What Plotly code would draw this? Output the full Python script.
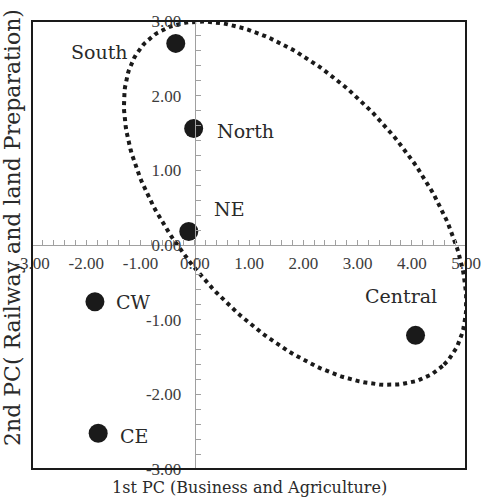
import numpy as np
import plotly.graph_objects as go

# Principal component scores by region
regions = ["South", "North", "NE", "CW", "CE", "Central"]
pc1 = [-0.35, -0.02, -0.11, -1.84, -1.78, 4.07]
pc2 = [2.70, 1.56, 0.18, -0.76, -2.52, -1.21]

# label offsets (pixels) relative to each point
label_dx = [-76, 52, 41, 39, 36, -15]
label_dy = [-9, -2, 23, 0, -3, 39]

# tick values and labels for both axes
x_ticks = [-3, -2, -1, 0, 1, 2, 3, 4, 5]
x_tick_labels = ["-3.00", "-2.00", "-1.00", "0.00", "1.00", "2.00", "3.00", "4.00", "5.00"]
y_ticks = [-3, -2, -1, 0, 1, 2, 3]
y_tick_labels = ["-3.00", "-2.00", "-1.00", "0.00", "1.00", "2.00", "3.00"]

# dotted grouping ellipse: centre plus two conjugate semi-axis vectors
ell_center = (1.85, 0.56)
ell_u = (2.72, -2.18)
ell_v = (-1.60, -1.08)

t = np.linspace(0, 2 * np.pi, 241)
ex = ell_center[0] + ell_u[0] * np.cos(t) + ell_v[0] * np.sin(t)
ey = ell_center[1] + ell_u[1] * np.cos(t) + ell_v[1] * np.sin(t)

INK = "#1a1a1a"
TEXT = "#2a2a2a"
TICK = "#3c3c3c"
AXIS = "#a0a0a0"
SERIF = "DejaVu Serif"
TICKFONT = "Liberation Serif"

fig = go.Figure()
fig.add_trace(go.Scatter(
    x=ex, y=ey, mode="lines",
    line=dict(color=INK, width=4, dash="dot"),
    hoverinfo="skip", showlegend=False,
))
fig.add_trace(go.Scatter(
    x=pc1, y=pc2, mode="markers",
    marker=dict(size=19, color=INK),
    text=regions, showlegend=False,
))

for name, x, y, dx, dy in zip(regions, pc1, pc2, label_dx, label_dy):
    fig.add_annotation(
        x=x, y=y, xref="x", yref="y", text=name, showarrow=False,
        xshift=dx, yshift=dy, xanchor="center", yanchor="middle",
        font=dict(family=SERIF, size=19, color=TEXT),
    )

# axis titles
fig.add_annotation(
    x=0.5, y=0, xref="paper", yref="paper", yshift=-18,
    xanchor="center", yanchor="middle",
    text="1st PC (Business and Agriculture)", showarrow=False,
    font=dict(family=SERIF, size=16, color=TEXT),
)
fig.add_annotation(
    x=-0.045, y=0.539, xref="paper", yref="paper",
    text="2nd PC( Railway and land Preparation)", showarrow=False,
    textangle=-90, xanchor="center", yanchor="middle",
    font=dict(family=SERIF, size=22, color=TEXT),
)

# outer frame
fig.add_shape(type="rect", xref="paper", yref="paper", x0=0, y0=0, x1=1, y1=1,
              line=dict(color=INK, width=2), layer="above")

common_axis = dict(
    showgrid=False, zeroline=False, showline=True, linecolor=AXIS, linewidth=1,
    ticks="inside", ticklen=5, tickcolor=AXIS, tickwidth=1,
    tickfont=dict(family=TICKFONT, size=17, color=TICK),
    minor=dict(dtick=0.2, ticks="inside", ticklen=5, tickcolor=AXIS, tickwidth=1),
    anchor="free", fixedrange=True,
)

fig.update_layout(
    width=493, height=497,
    margin=dict(l=32, r=21, t=21, b=28),
    paper_bgcolor="white", plot_bgcolor="white",
    xaxis=dict(range=[-3, 5], tickvals=x_ticks, ticktext=x_tick_labels,
               position=0.5, ticklabelstandoff=3, **common_axis),
    yaxis=dict(range=[-3, 3], tickvals=y_ticks, ticktext=y_tick_labels,
               position=0.375, ticklabelstandoff=10, **common_axis),
)

fig.write_html("out.html")
